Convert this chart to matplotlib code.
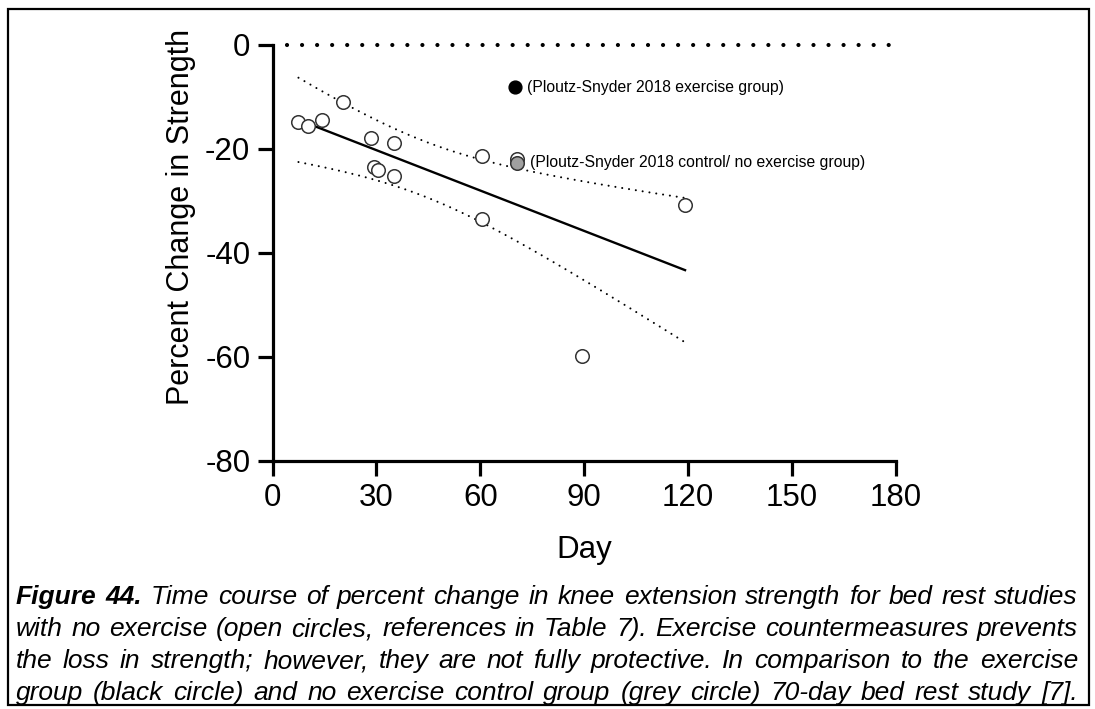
import numpy as np
import matplotlib
matplotlib.use("Agg")
import matplotlib.pyplot as plt
from matplotlib import font_manager
from matplotlib.patches import Rectangle

# Bed-rest studies without exercise (open circles)
days = [7.5, 10.3, 14.2, 20.3, 28.3, 35.1, 29.3, 30.4, 35.1, 60.4, 70.5, 60.4, 89.3, 119.1]
pct_change = [-14.8, -15.6, -14.5, -11.0, -17.9, -18.9, -23.5, -24.0, -25.2, -21.3, -21.9, -33.5, -59.9, -30.8]

# Ploutz-Snyder 2018 groups
exercise_day, exercise_pct = 70.0, -8.1
control_day, control_pct = 70.5, -22.7

x_ticks = [0, 30, 60, 90, 120, 150, 180]
y_ticks = [-80, -60, -40, -20, 0]

caption_lines = [
    "Time course of percent change in knee extension strength for bed rest studies",
    "with no exercise (open circles, references in Table 7). Exercise countermeasures prevents",
    "the loss in strength; however, they are not fully protective. In comparison to the exercise",
    "group (black circle) and no exercise control group (grey circle) 70-day bed rest study [7].",
]
caption_lead = "Figure 44."

available = {f.name for f in font_manager.fontManager.ttflist}
base_font = "Liberation Sans" if "Liberation Sans" in available else "DejaVu Sans"
narrow_font = "Liberation Sans Narrow" if "Liberation Sans Narrow" in available else base_font
plt.rcParams["font.family"] = base_font

W, H = 1095, 709
fig = plt.figure(figsize=(W / 100, H / 100), dpi=100)
ax = fig.add_axes([272.5 / W, 1 - 460.5 / H, (896 - 272.5) / W, (460.5 - 45) / H])

# Linear regression with 95% confidence band
x = np.asarray(days)
y = np.asarray(pct_change)
n = len(x)
slope, intercept = np.polyfit(x, y, 1)
resid = y - (slope * x + intercept)
s = np.sqrt(np.sum(resid ** 2) / (n - 2))
sxx = np.sum((x - x.mean()) ** 2)
t_crit = 2.179  # t(0.975, df=12)
xf = np.linspace(x.min(), x.max(), 200)
yf = slope * xf + intercept
half = t_crit * s * np.sqrt(1 / n + (xf - x.mean()) ** 2 / sxx)

# Zero reference line (round dots)
ax.plot([4.2, 180], [0, 0], color="black", lw=3.0, linestyle=(0, (0.01, 3.6)),
        dash_capstyle="round", clip_on=False, zorder=2)
ax.plot(xf, yf, color="black", lw=1.7, zorder=3)
ax.plot(xf, yf + half, color="black", lw=1.5, linestyle=(0, (0.01, 3.3)),
        dash_capstyle="round", zorder=3)
ax.plot(xf, yf - half, color="black", lw=1.5, linestyle=(0, (0.01, 3.3)),
        dash_capstyle="round", zorder=3)

ax.scatter(days, pct_change, s=95, facecolor="white", edgecolor="#333333",
           linewidth=1.1, zorder=4)
ax.scatter([control_day], [control_pct], s=95, facecolor="#a0a0a0",
           edgecolor="#333333", linewidth=1.1, zorder=5)
ax.scatter([exercise_day], [exercise_pct], s=85, facecolor="black",
           edgecolor="black", linewidth=1.0, zorder=5)

ax.text(73.5, exercise_pct, "(Ploutz-Snyder 2018 exercise group)", fontsize=11.3,
        va="center", ha="left")
ax.text(74.3, control_pct, "(Ploutz-Snyder 2018 control/ no exercise group)",
        fontsize=11.3, va="center", ha="left")

ax.set_xlim(0, 180)
ax.set_ylim(-80, 0)
ax.set_xticks(x_ticks)
ax.set_yticks(y_ticks)
ax.set_xticklabels([str(v) for v in x_ticks])
ax.set_yticklabels([str(v) for v in y_ticks])
for side in ("top", "right"):
    ax.spines[side].set_visible(False)
for side in ("left", "bottom"):
    ax.spines[side].set_linewidth(2.3)
ax.tick_params(axis="both", direction="out", length=11, width=2.3,
               labelsize=22.5, pad=5)
ax.set_xlabel("Day", fontsize=22.5, labelpad=16)
ax.set_ylabel("Percent Change in Strength", fontsize=22)
ax.yaxis.set_label_coords(-0.122, 0.586)
ax.patch.set_visible(False)

# Frame around the whole figure
fig.patches.append(Rectangle((8 / W, 1 - 705 / H), (1089 - 8) / W, (705 - 9) / H,
                             transform=fig.transFigure, fill=False,
                             edgecolor="black", linewidth=1.6))

# Justified caption, placed word by word
renderer = fig.canvas.get_renderer()
left_px, right_px = 16, 1078
baselines = [604, 636, 668, 700]
cap_size = 19


def word_width(txt, weight):
    t = fig.text(0, 0, txt, fontsize=cap_size, family=narrow_font,
                 style="italic", weight=weight)
    w = t.get_window_extent(renderer).width
    t.remove()
    return w


for i, line in enumerate(caption_lines):
    words = [(w, "normal") for w in line.split()]
    if i == 0:
        words = [(w, "bold") for w in caption_lead.split()] + words
    widths = [word_width(w, wt) for w, wt in words]
    gap = (right_px - left_px - sum(widths)) / (len(words) - 1)
    xpos = left_px
    for (w, wt), ww in zip(words, widths):
        fig.text(xpos / W, 1 - baselines[i] / H, w, fontsize=cap_size,
                 family=narrow_font, style="italic", weight=wt,
                 ha="left", va="baseline")
        xpos += ww + gap

fig.savefig("out.png", dpi=100)
